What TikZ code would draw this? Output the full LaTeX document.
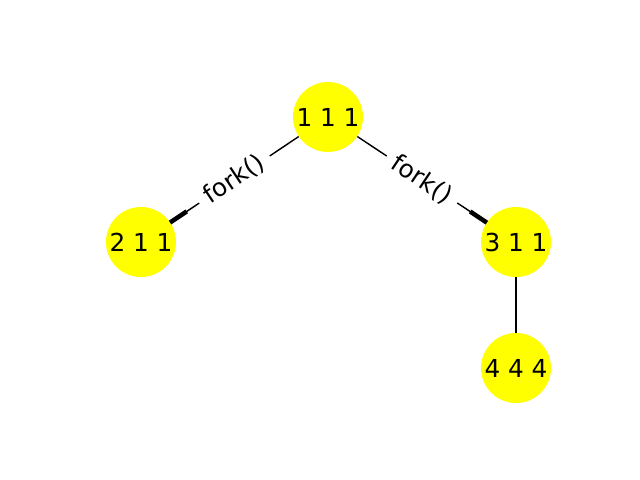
\documentclass[tikz,border=0pt]{standalone}
\usepackage{fontspec}
\setmainfont{DejaVu Sans}
\usetikzlibrary{calc}
\definecolor{nodeyellow}{RGB}{255,255,0}

\begin{document}
\begin{tikzpicture}[x=0.025cm, y=0.025cm,
    state/.style={circle, fill=nodeyellow, minimum size=1.75cm, inner sep=0pt,
      font=\fontsize{17.6pt}{20pt}\selectfont},
    edge/.style={black, line width=1pt},
    tipline/.style={black, line width=3.2pt},
    call/.style={midway, sloped, fill=white, inner xsep=6pt, inner ysep=2pt,
      font=\fontsize{17.6pt}{20pt}\selectfont}]
    \useasboundingbox (0,0) rectangle (640,-480);
    % \fill[white] (0,0) rectangle (640,-480);
    \node[state] (p111) at (328,-117) {1 1 1};
    \node[state] (p211) at (141,-242) {2 1 1};
    \node[state] (p311) at (516,-242) {3 1 1};
    \node[state] (p444) at (516,-368) {4 4 4};
    \draw[edge] (p111) -- (p211) node[call] {fork()};
    \draw[tipline] ($(p211)!0.875cm!(p111)$) -- ($(p211)!1.375cm!(p111)$);
    \draw[edge] (p111) -- (p311) node[call] {fork()};
    \draw[tipline] ($(p311)!0.875cm!(p111)$) -- ($(p311)!1.375cm!(p111)$);
    \draw[edge] (p311) -- (p444);
\end{tikzpicture}
\end{document}
